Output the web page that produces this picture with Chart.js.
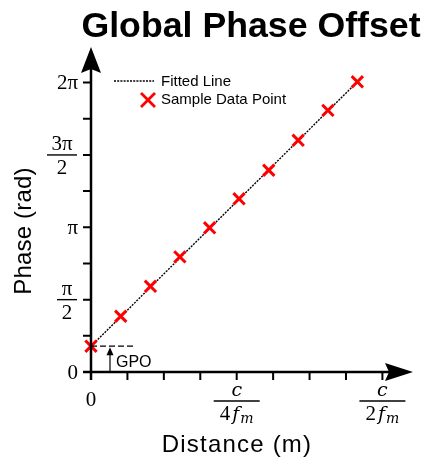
<!DOCTYPE html>
<html>
<head>
<meta charset="utf-8">
<script src="https://cdn.jsdelivr.net/npm/chart.js@4.4.1/dist/chart.umd.min.js"></script>
<style>
  html, body { margin: 0; padding: 0; background: #fff; }
  #wrap { width: 424px; height: 458px; }
</style>
</head>
<body>
<div id="wrap"><canvas id="phase_canvas" width="424" height="458"></canvas></div>
<script>
// distance in units of c/(2 f_m), phase in rad
var sample_distance = [0, 0.102, 0.204, 0.305, 0.407, 0.508, 0.610, 0.711, 0.813, 0.914];
var sample_phase = [0.56, 1.21, 1.86, 2.50, 3.13, 3.76, 4.38, 5.03, 5.68, 6.30];

var fit_distance = [0, 0.914];
var fit_phase = [0.56, 6.30];

var gpo_value = 0.56;

var x_tick_values = [0, 0.125, 0.25, 0.375, 0.5, 0.625, 0.75, 0.875, 1];
var x_major_values = [0, 0.5, 1];
var x_major_labels = ['0', 'c/4fm', 'c/2fm'];

var y_tick_values = [0, Math.PI / 4, Math.PI / 2, 3 * Math.PI / 4, Math.PI, 5 * Math.PI / 4, 3 * Math.PI / 2, 7 * Math.PI / 4, 2 * Math.PI];
var y_major_values = [0, Math.PI / 2, Math.PI, 3 * Math.PI / 2, 2 * Math.PI];
var y_major_labels = ['0', 'π/2', 'π', '3π/2', '2π'];

var to_points = function(xs, ys)
{
  var pts = [];
  for (var i = 0; i < xs.length; i++)
  {
    pts.push({x: xs[i], y: ys[i]});
  }
  return pts;
};

var serif = '"Liberation Serif", "DejaVu Serif", serif';
var math_it = '"DejaVu Serif", "Liberation Serif", serif';
var sans = '"Liberation Sans", Arial, sans-serif';

var draw_frac = function(ctx, num_fn, den_fn, cx, cy, half_w)
{
  ctx.save();
  ctx.strokeStyle = '#000';
  ctx.lineWidth = 1.4;
  ctx.beginPath();
  ctx.moveTo(cx - half_w, cy);
  ctx.lineTo(cx + half_w, cy);
  ctx.stroke();
  ctx.restore();
  num_fn(cx, cy - 5);
  den_fn(cx, cy + 19);
};

var axes_plugin = {
  id: 'axes_plugin',
  afterDraw: function(chart)
  {
    var ctx = chart.ctx;
    var xs = chart.scales.x;
    var ys = chart.scales.y;
    var x0 = xs.getPixelForValue(0);
    var y0 = ys.getPixelForValue(0);
    var xEnd = chart.chartArea.right;
    var yTop = chart.chartArea.top;

    ctx.save();
    ctx.fillStyle = '#000';
    ctx.strokeStyle = '#000';

    // title
    ctx.font = 'bold 35.7px ' + sans;
    ctx.textAlign = 'center';
    ctx.textBaseline = 'alphabetic';
    ctx.fillText('Global Phase Offset', 251, 37);

    // axis titles
    ctx.font = '24px ' + sans;
    ctx.letterSpacing = '1.2px';
    ctx.fillText('Distance (m)', 237, 452);
    ctx.letterSpacing = '0.2px';
    ctx.save();
    ctx.translate(31, 231);
    ctx.rotate(-Math.PI / 2);
    ctx.fillText('Phase (rad)', 0, 0);
    ctx.restore();
    ctx.letterSpacing = '0px';

    // axis lines
    ctx.lineWidth = 2.5;
    ctx.beginPath();
    ctx.moveTo(x0, y0 + 8);
    ctx.lineTo(x0, yTop + 15);
    ctx.moveTo(x0 - 8, y0);
    ctx.lineTo(xEnd - 15, y0);
    ctx.stroke();

    // arrow heads
    ctx.beginPath();
    ctx.moveTo(x0, yTop);
    ctx.lineTo(x0 - 10, yTop + 26);
    ctx.lineTo(x0, yTop + 22);
    ctx.lineTo(x0 + 10, yTop + 26);
    ctx.closePath();
    ctx.fill();
    ctx.beginPath();
    ctx.moveTo(xEnd, y0);
    ctx.lineTo(xEnd - 28, y0 - 9);
    ctx.lineTo(xEnd - 24, y0);
    ctx.lineTo(xEnd - 28, y0 + 9);
    ctx.closePath();
    ctx.fill();

    // ticks
    ctx.lineWidth = 2;
    ctx.beginPath();
    x_tick_values.forEach(function(v)
    {
      var px = xs.getPixelForValue(v);
      ctx.moveTo(px, y0);
      ctx.lineTo(px, y0 + 8);
    });
    y_tick_values.forEach(function(v)
    {
      var py = ys.getPixelForValue(v);
      ctx.moveTo(x0 - 8, py);
      ctx.lineTo(x0, py);
    });
    ctx.stroke();

    // y tick labels
    var ysize = 21;
    var serif_text = function(txt, italic)
    {
      return function(cx, cy)
      {
        ctx.font = italic ? 'italic 19px ' + math_it : ysize + 'px ' + serif;
        ctx.textAlign = 'center';
        ctx.textBaseline = 'alphabetic';
        ctx.fillText(txt, cx, cy);
      };
    };
    y_major_labels.forEach(function(lab, i)
    {
      var py = ys.getPixelForValue(y_major_values[i]);
      if (lab.indexOf('/') < 0)
      {
        ctx.font = ysize + 'px ' + serif;
        ctx.textAlign = 'right';
        ctx.textBaseline = 'middle';
        ctx.fillText(lab, x0 - 13, py + 1);
      }
      else
      {
        var parts = lab.split('/');
        var hw = parts[0].length > 1 ? 15 : 10;
        draw_frac(ctx, serif_text(parts[0], false), serif_text(parts[1], false), x0 - 14 - hw, py, hw);
      }
    });

    // x tick labels
    var fm_den = function(digit)
    {
      return function(cx, cy)
      {
        ctx.textBaseline = 'alphabetic';
        ctx.textAlign = 'left';
        ctx.font = ysize + 'px ' + serif;
        var w1 = ctx.measureText(digit).width;
        ctx.font = 'italic 19px ' + math_it;
        var w2 = ctx.measureText('f').width + 3;
        ctx.font = 'italic 14px ' + math_it;
        var w3 = ctx.measureText('m').width;
        var start = cx - (w1 + w2 + w3) / 2;
        ctx.font = ysize + 'px ' + serif;
        ctx.fillText(digit, start, cy);
        ctx.font = 'italic 19px ' + math_it;
        ctx.fillText('f', start + w1 + 2, cy);
        ctx.font = 'italic 14px ' + math_it;
        ctx.fillText('m', start + w1 + w2, cy + 3);
      };
    };
    x_major_labels.forEach(function(lab, i)
    {
      var px = xs.getPixelForValue(x_major_values[i]);
      if (lab.indexOf('/') < 0)
      {
        ctx.font = ysize + 'px ' + serif;
        ctx.textAlign = 'center';
        ctx.textBaseline = 'alphabetic';
        ctx.fillText(lab, px, y0 + 34);
      }
      else
      {
        var digit = lab.split('/')[1].charAt(0);
        draw_frac(ctx, serif_text('c', true), fm_den(digit), px, y0 + 29, 23);
      }
    });

    // GPO marker
    var gy = ys.getPixelForValue(gpo_value);
    ctx.lineWidth = 1.2;
    ctx.setLineDash([6, 3]);
    ctx.beginPath();
    ctx.moveTo(x0, gy);
    ctx.lineTo(x0 + 43, gy);
    ctx.stroke();
    ctx.setLineDash([]);
    var ax = x0 + 19;
    ctx.beginPath();
    ctx.moveTo(ax, y0);
    ctx.lineTo(ax, gy + 6);
    ctx.stroke();
    ctx.beginPath();
    ctx.moveTo(ax, gy + 1);
    ctx.lineTo(ax - 3.5, gy + 9);
    ctx.lineTo(ax + 3.5, gy + 9);
    ctx.closePath();
    ctx.fill();
    ctx.font = '16px ' + sans;
    ctx.textAlign = 'left';
    ctx.textBaseline = 'alphabetic';
    ctx.fillText('GPO', ax + 6, gy + 21);

    // legend
    ctx.lineWidth = 1.3;
    ctx.setLineDash([2, 1.2]);
    ctx.beginPath();
    ctx.moveTo(114, 81);
    ctx.lineTo(154, 81);
    ctx.stroke();
    ctx.setLineDash([]);
    ctx.strokeStyle = '#ff0000';
    ctx.lineWidth = 2.8;
    ctx.beginPath();
    ctx.moveTo(141, 93);
    ctx.lineTo(155, 107);
    ctx.moveTo(155, 93);
    ctx.lineTo(141, 107);
    ctx.stroke();
    ctx.font = '15px ' + sans;
    ctx.fillText('Fitted Line', 161, 86);
    ctx.fillText('Sample Data Point', 161, 104);

    ctx.restore();
  }
};

var phase_chart = document.getElementById('phase_canvas').getContext('2d');

new Chart(phase_chart, {
  type: 'scatter',
  data: {
    datasets: [
      {
        label: 'Fitted Line',
        data: to_points(fit_distance, fit_phase),
        showLine: true,
        borderColor: '#000',
        borderWidth: 1.4,
        borderDash: [2, 1.2],
        pointRadius: 0,
        clip: false,
        order: 2
      },
      {
        label: 'Sample Data Point',
        data: to_points(sample_distance, sample_phase),
        showLine: false,
        pointStyle: 'crossRot',
        pointRadius: 8,
        borderColor: '#ff0000',
        backgroundColor: '#ff0000',
        pointBorderWidth: 3,
        clip: false,
        order: 1
      }
    ]
  },
  options: {
    responsive: false,
    animation: false,
    layout: { padding: { left: 91, right: 10, top: 47, bottom: 86 } },
    plugins: {
      legend: { display: false },
      tooltip: { enabled: false }
    },
    scales: {
      x: { type: 'linear', min: 0, max: 1.105, display: false },
      y: { type: 'linear', min: 0, max: 2 * Math.PI * 1.123, display: false }
    }
  },
  plugins: [axes_plugin]
});
</script>
</body>
</html>
